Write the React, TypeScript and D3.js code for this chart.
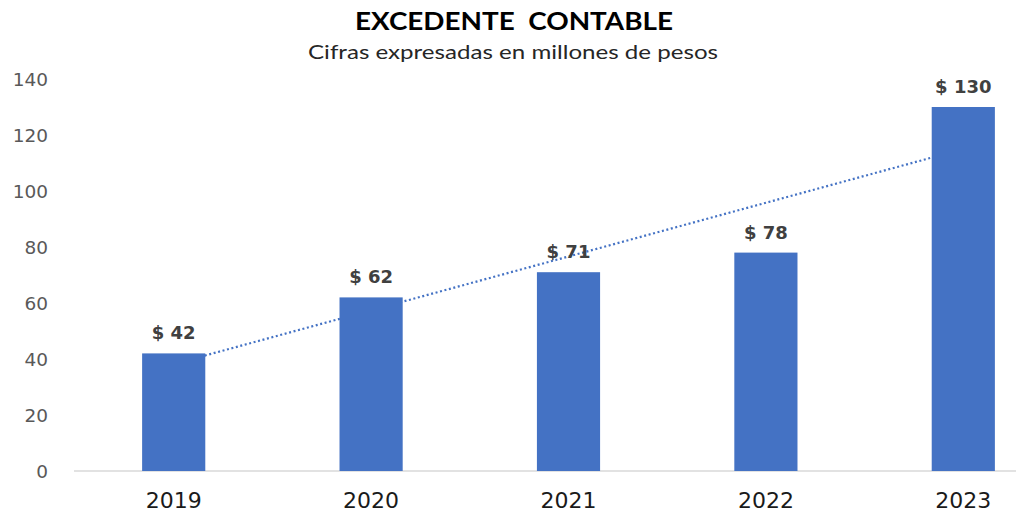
import React from "react";
import * as d3 from "d3";

const years = ["2019", "2020", "2021", "2022", "2023"];
const values = [42, 62, 71, 78, 130];
const yTicks = [0, 20, 40, 60, 80, 100, 120, 140];
const title = "EXCEDENTE  CONTABLE";
const subtitle = "Cifras expresadas en millones de pesos";

export default function App() {
  const W = 1016;
  const H = 516;
  const x = d3.scaleBand<string>().domain(years).range([75, 1062]).paddingInner(0.68).paddingOuter(0.34);
  const y = d3.scaleLinear().domain([0, 140]).range([471, 79]);

  // linear trendline (least squares) over category index 1..n
  const xs = values.map((_, i) => i + 1);
  const mx = d3.mean(xs)!;
  const my = d3.mean(values)!;
  const slope = d3.sum(xs.map((xi, i) => (xi - mx) * (values[i] - my))) / d3.sum(xs.map((xi) => (xi - mx) ** 2));
  const intercept = my - slope * mx;
  const trendPts: [number, number][] = years.map((yr, i) => [
    x(yr)! + x.bandwidth() / 2,
    y(intercept + slope * (i + 1)),
  ]);
  const line = d3.line();

  return (
    <svg width={W} height={H} style={{ position: "absolute", left: 0, top: 0, background: "#fff" }}>
      <text x={514} y={30} textAnchor="middle" fontFamily="Lato, 'Open Sans', sans-serif" fontWeight={700} fontSize={25} fill="#000" textLength={318} lengthAdjust="spacingAndGlyphs" style={{ whiteSpace: "pre" }}>
        {title}
      </text>
      <text x={513} y={59} textAnchor="middle" fontFamily="Lato, 'Open Sans', sans-serif" fontSize={19} fill="#262626" textLength={410} lengthAdjust="spacingAndGlyphs">
        {subtitle}
      </text>
      {yTicks.map((t) => (
        <text key={t} x={48} y={y(t)} textAnchor="end" dominantBaseline="central" fontFamily="'DejaVu Sans', Verdana, sans-serif" fontSize={18.5} fill="#595959">
          {t}
        </text>
      ))}
      <line x1={74} x2={W} y1={y(0)} y2={y(0)} stroke="#d9d9d9" strokeWidth={1.3} />
      <path d={line(trendPts) || ""} fill="none" stroke="#4472C4" strokeWidth={2.2} strokeDasharray="2 2.6" />
      {years.map((yr, i) => (
        <rect key={yr} x={x(yr)!} y={y(values[i])} width={x.bandwidth()} height={y(0) - y(values[i])} fill="#4472C4" />
      ))}
      {years.map((yr, i) => (
        <text key={"l" + yr} x={x(yr)! + x.bandwidth() / 2} y={y(values[i]) - 14} textAnchor="middle" fontFamily="'DejaVu Sans', Verdana, sans-serif" fontWeight={700} fontSize={18} fill="#404040">
          {"$ " + values[i]}
        </text>
      ))}
      {years.map((yr) => (
        <text key={"y" + yr} x={x(yr)! + x.bandwidth() / 2} y={508} textAnchor="middle" fontFamily="'DejaVu Sans', Verdana, sans-serif" fontSize={22} fill="#1a1a1a">
          {yr}
        </text>
      ))}
    </svg>
  );
}
